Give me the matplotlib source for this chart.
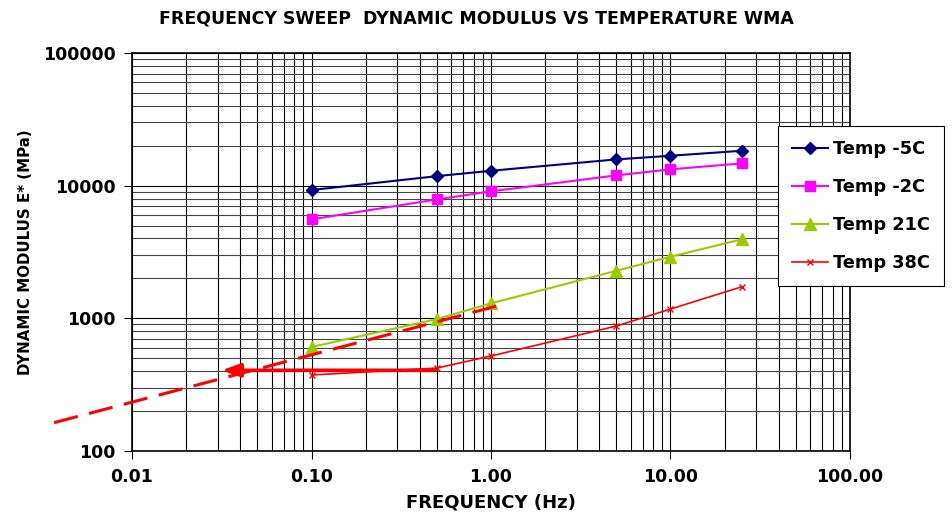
import matplotlib.pyplot as plt
from matplotlib.ticker import FixedLocator, FixedFormatter, LogLocator, NullFormatter

freq = [0.1, 0.5, 1, 5, 10, 25]
temp_m5 = [9270, 11800, 12950, 15780, 16800, 18330]
temp_m2 = [5570, 7880, 9060, 11960, 13270, 14730]
temp_21 = [608, 988, 1297, 2285, 2913, 3940]
temp_38 = [374, 422, 520, 875, 1175, 1730]

# hand-drawn annotations
dash_x = [0.00368, 1.076]
dash_y = [163.5, 1238]
arrow_from = (0.4875, 405.7)
arrow_to = (0.0316, 405.7)

xticks = [0.01, 0.1, 1, 10, 100]
xlabels = ['0.01', '0.10', '1.00', '10.00', '100.00']
yticks = [100, 1000, 10000, 100000]
ylabels = ['100', '1000', '10000', '100000']

plt.rcParams['font.family'] = ['DejaVu Sans']
plt.rcParams['font.weight'] = 'bold'

fig = plt.figure(figsize=(9.53, 5.16), dpi=100)
ax = fig.add_axes([132/953, 1-451/516, (850-132)/953, (451-53)/516])
ax.set_xscale('log')
ax.set_yscale('log')
ax.set_xlim(0.01, 100)
ax.set_ylim(100, 100000)

ax.plot(freq, temp_m5, color='#000080', marker='D', markersize=6.5, lw=1.5, label='Temp -5C')
ax.plot(freq, temp_m2, color='#FF00FF', marker='s', markersize=7.5, lw=1.5, label='Temp -2C')
ax.plot(freq, temp_21, color='#99CC00', marker='^', markersize=8.5, lw=1.5, label='Temp 21C')
ax.plot(freq, temp_38, color='#FF0000', marker='x', markersize=5, lw=1.2, label='Temp 38C')

ax.plot(dash_x, dash_y, color='#FF0000', lw=2.2, dashes=(8, 3.8), clip_on=False, zorder=5)
ax.annotate('', xy=arrow_to, xytext=arrow_from,
            arrowprops=dict(arrowstyle='-|>,head_length=1.1,head_width=0.4', color='#FF0000',
                            lw=2.6, shrinkA=0, shrinkB=0),
            zorder=5)

ax.xaxis.set_major_locator(FixedLocator(xticks))
ax.xaxis.set_major_formatter(FixedFormatter(xlabels))
ax.yaxis.set_major_locator(FixedLocator(yticks))
ax.yaxis.set_major_formatter(FixedFormatter(ylabels))
ax.xaxis.set_minor_locator(LogLocator(base=10, subs=range(2, 10)))
ax.yaxis.set_minor_locator(LogLocator(base=10, subs=range(2, 10)))
ax.xaxis.set_minor_formatter(NullFormatter())
ax.yaxis.set_minor_formatter(NullFormatter())

ax.grid(True, which='both', axis='x', color='black', lw=0.8)
ax.grid(True, which='major', axis='y', color='black', lw=0.8)
ax.grid(True, which='minor', axis='y', color='#444444', lw=0.8)
ax.set_axisbelow(True)
ax.tick_params(which='major', length=6, width=0.8, labelsize=12.5, pad=6)
ax.tick_params(which='minor', length=0)
for s in ax.spines.values():
    s.set_linewidth(1.2)

fig.text(476/953, 1-18/516, 'FREQUENCY SWEEP  DYNAMIC MODULUS VS TEMPERATURE WMA',
         ha='center', va='center', fontsize=12.5, fontweight='bold')
ax.set_xlabel('FREQUENCY (Hz)', fontsize=13, fontweight='bold', labelpad=6)
ax.set_ylabel('DYNAMIC MODULUS E* (MPa)', fontsize=10.8, fontweight='bold', labelpad=7)

leg = ax.legend(loc='upper left', bbox_to_anchor=(778/953, 1-126/516), bbox_transform=fig.transFigure,
                fancybox=False, framealpha=1, edgecolor='black', fontsize=12.8,
                labelspacing=1.12, handlelength=2.0, handletextpad=0.3, borderpad=0.8,
                borderaxespad=0)
leg.get_frame().set_linewidth(0.8)

fig.savefig('out.png', dpi=100)
